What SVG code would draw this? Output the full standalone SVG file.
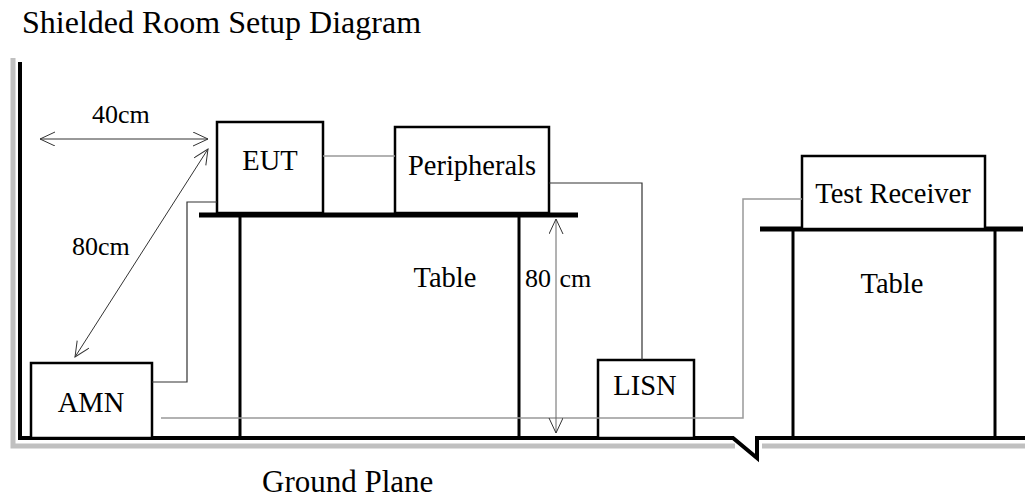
<svg xmlns="http://www.w3.org/2000/svg" width="1025" height="499" viewBox="0 0 1025 499">
<style>
text{font-family:"Liberation Serif","Times New Roman",serif;fill:#000}
.lbl{font-size:28.5px;text-anchor:middle}
.dim{font-size:26px}
.box{fill:#fff;stroke:#000;stroke-width:2.5}
.top{stroke:#000;stroke-width:5}
.leg{stroke:#000;stroke-width:3}
.gray{fill:none;stroke:#c0c0c0;stroke-width:5}
.blk{fill:none;stroke:#000;stroke-width:4}
.wire{fill:none;stroke:#333;stroke-width:1.2}
.gwire{fill:none;stroke:#999;stroke-width:1.5}
.arr{fill:none;stroke:#333;stroke-width:1;marker-start:url(#ah);marker-end:url(#ah)}
</style>
<defs>
<marker id="ah" markerUnits="userSpaceOnUse" markerWidth="18" markerHeight="16" refX="16" refY="7" orient="auto-start-reverse" viewBox="0 0 18 16">
<path d="M1,0 L16,7 L1,14" fill="none" stroke="#333" stroke-width="1"/>
</marker>
</defs>
<text x="22" y="33" style="font-size:32px">Shielded Room Setup Diagram</text>
<g id="room">
<path class="gray" d="M13,58 V446 H735"/>
<path class="gray" d="M762,446 H1025"/>
<path class="blk" d="M20,62 V438 H733 L757,458 V438 H1025"/>
</g>
<g id="table1">
<line class="leg" x1="240" y1="215" x2="240" y2="438"/>
<line class="leg" x1="519" y1="215" x2="519" y2="438"/>
<line class="top" x1="199" y1="215" x2="578" y2="215"/>
<text class="lbl" x="445" y="287">Table</text>
</g>
<g id="table2">
<line class="leg" x1="793" y1="229" x2="793" y2="438"/>
<line class="leg" x1="995" y1="229" x2="995" y2="438"/>
<line class="top" x1="760" y1="229" x2="1023" y2="229"/>
<text class="lbl" x="892" y="293">Table</text>
</g>
<g id="eut">
<rect class="box" x="217" y="122" width="106" height="91"/>
<text class="lbl" x="270" y="170">EUT</text>
</g>
<g id="peripherals">
<rect class="box" x="395" y="127" width="154" height="86"/>
<text class="lbl" x="472" y="175">Peripherals</text>
</g>
<g id="amn">
<rect class="box" x="31" y="363" width="121" height="75"/>
<text class="lbl" x="91" y="412">AMN</text>
</g>
<g id="lisn">
<rect class="box" x="598" y="360" width="96" height="78"/>
<text class="lbl" x="645" y="395">LISN</text>
</g>
<g id="receiver">
<rect class="box" x="802" y="156" width="183" height="73"/>
<text class="lbl" x="893" y="203">Test Receiver</text>
</g>
<g id="connectors">
<path class="gwire" d="M323,156 H395"/>
<path class="wire" d="M549,183 H642 V360"/>
<path class="wire" d="M152,382 H187 V202 H217"/>
<path class="gwire" d="M161,418 H743 V199 H802"/>
<line class="arr" x1="40" y1="139" x2="208" y2="139"/>
<line class="arr" x1="75" y1="357" x2="208" y2="149"/>
<line class="arr" x1="556" y1="219" x2="556" y2="433" style="stroke:#666"/>
</g>
<g id="labels">
<text class="dim" x="92" y="123">40cm</text>
<text class="dim" x="72" y="255">80cm</text>
<text class="dim" x="525" y="287" word-spacing="2">80 cm</text>
<text x="262" y="492" style="font-size:31px">Ground Plane</text>
</g>
</svg>
